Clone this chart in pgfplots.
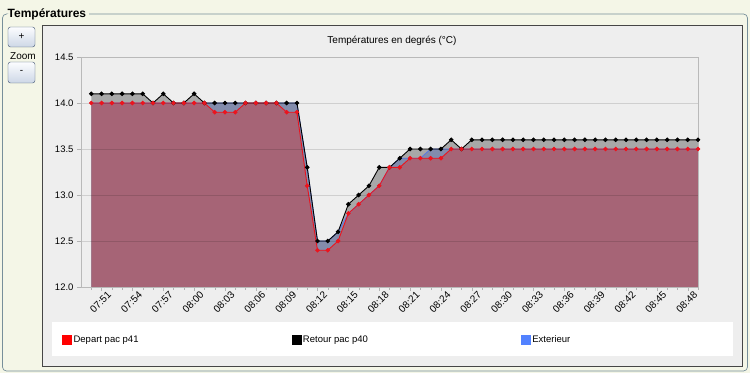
\documentclass[border=0pt]{standalone}
\usepackage{fontspec}
\setmainfont{Liberation Sans}
\usepackage{pgfplots}
\usepackage{pgfplotstable}
\pgfplotsset{compat=1.18}

\definecolor{bgcol}{RGB}{244,246,231}
\definecolor{panelbg}{RGB}{238,238,238}
\definecolor{panelborder}{RGB}{70,70,70}
\definecolor{fieldcol}{RGB}{60,95,110}
\definecolor{maroonfill}{RGB}{166,100,118}
\definecolor{grayfill}{RGB}{168,168,168}
\definecolor{bluefill}{RGB}{131,140,172}
\definecolor{blueline}{RGB}{90,120,230}
\definecolor{legblue}{RGB}{82,130,255}
\definecolor{redline}{RGB}{235,20,30}
\definecolor{btntop}{RGB}{252,253,255}
\definecolor{btnbot}{RGB}{205,215,230}
\definecolor{btnborder}{RGB}{60,80,110}

\pgfplotstableread{
i dep ret ext
0 14.0 14.1 14.0
1 14.0 14.1 14.0
2 14.0 14.1 14.0
3 14.0 14.1 14.0
4 14.0 14.1 14.0
5 14.0 14.1 14.0
6 14.0 14.0 14.0
7 14.0 14.1 14.0
8 14.0 14.0 14.0
9 14.0 14.0 14.0
10 14.0 14.1 14.0
11 14.0 14.0 14.0
12 13.9 14.0 14.0
13 13.9 14.0 14.0
14 13.9 14.0 14.0
15 14.0 14.0 14.0
16 14.0 14.0 14.0
17 14.0 14.0 14.0
18 14.0 14.0 14.0
19 13.9 14.0 14.0
20 13.9 14.0 14.0
21 13.1 13.3 13.3
22 12.4 12.5 12.5
23 12.4 12.5 12.5
24 12.5 12.6 12.6
25 12.8 12.9 12.8
26 12.9 13.0 12.9
27 13.0 13.1 13.0
28 13.1 13.3 13.1
29 13.3 13.3 13.3
30 13.3 13.4 13.4
31 13.4 13.5 13.4
32 13.4 13.5 13.4
33 13.4 13.5 13.5
34 13.4 13.5 13.5
35 13.5 13.6 13.5
36 13.5 13.5 13.5
37 13.5 13.6 13.5
38 13.5 13.6 13.5
39 13.5 13.6 13.5
40 13.5 13.6 13.5
41 13.5 13.6 13.5
42 13.5 13.6 13.5
43 13.5 13.6 13.5
44 13.5 13.6 13.5
45 13.5 13.6 13.5
46 13.5 13.6 13.5
47 13.5 13.6 13.5
48 13.5 13.6 13.5
49 13.5 13.6 13.5
50 13.5 13.6 13.5
51 13.5 13.6 13.5
52 13.5 13.6 13.5
53 13.5 13.6 13.5
54 13.5 13.6 13.5
55 13.5 13.6 13.5
56 13.5 13.6 13.5
57 13.5 13.6 13.5
58 13.5 13.6 13.5
59 13.5 13.6 13.5
}\data

\begin{document}
\begin{tikzpicture}[x=1pt,y=1pt]
\useasboundingbox (0,0) rectangle (750,373);
\fill[bgcol] (0,0) rectangle (750,373);
% fieldset frame
\draw[fieldcol!70, line width=0.7pt, rounded corners=4pt] (89,359) -- (747.5,359) -- (747.5,2) -- (2.5,2) -- (2.5,359) -- (6,359);
\node[anchor=west, font=\bfseries\fontsize{12}{14}\selectfont, inner sep=1pt] at (6.5,359) {Températures};
% chart panel
\draw[panelborder, fill=panelbg, line width=0.8pt] (42,348) rectangle (742,7);
% zoom buttons
\draw[btnborder, rounded corners=2.5pt, top color=btntop, bottom color=btnbot] (8,346) rectangle (35,326);
\node[font=\fontsize{10}{12}\selectfont] at (21.5,336.5) {+};
\node[font=\fontsize{10}{12}\selectfont] at (23,317) {Zoom};
\draw[btnborder, rounded corners=2.5pt, top color=btntop, bottom color=btnbot] (8,311) rectangle (35,290);
\node[font=\fontsize{10}{12}\selectfont] at (21.5,301) {-};
% legend box
\fill[white] (52,17) rectangle (733,51);
% title
\node[font=\fontsize{10}{12}\selectfont] at (392,332) {Températures en degrés (°C)};
\begin{axis}[
  at={(81pt,86pt)}, anchor=south west,
  scale only axis, width=617pt, height=230pt,
  xmin=-1, xmax=59, ymin=12, ymax=14.5,
  axis on top,
  axis line style={draw=gray!55},
  xtick pos=bottom, ytick pos=left,
  ytick={12,12.5,13,13.5,14,14.5},
  xtick={1,4,7,10,13,16,19,22,25,28,31,34,37,40,43,46,49,52,55,58},
  xticklabels={07:51,07:54,07:57,08:00,08:03,08:06,08:09,08:12,08:15,08:18,08:21,08:24,08:27,08:30,08:33,08:36,08:39,08:42,08:45,08:48},
  minor xtick={0,...,59},
  tick align=outside, major tick length=4pt, minor tick length=2.5pt,
  tick style={gray!60},
  ymajorgrids, grid style={black, opacity=0.13},
  /pgf/number format/assume math mode=true,
  yticklabel style={/pgf/number format/.cd, fixed, fixed zerofill, precision=1},
  ticklabel style={font=\fontsize{9.5}{11}\selectfont},
  xticklabel style={anchor=center, yshift=-11pt, xshift=-1pt, rotate=45, inner sep=0pt, font=\fontsize{10}{12}\selectfont},
  legend style={draw=none, fill=none, at={(-0.0308,-0.2304)}, anchor=west,
    legend columns=3, font=\fontsize{9.5}{11}\selectfont, inner sep=0pt,
    /tikz/every even column/.append style={column sep=0pt}},
  legend cell align=left,
]
\addplot[draw=none, fill=grayfill, forget plot] table[x=i,y=ret]{\data} \closedcycle;
\addplot[draw=none, fill=bluefill, forget plot] table[x=i,y=ext]{\data} \closedcycle;
\addplot[draw=none, fill=maroonfill, forget plot] table[x=i,y=dep]{\data} \closedcycle;
\addplot[blueline, line width=0.8pt, forget plot] table[x=i,y=ext]{\data};
\addplot[black, line width=0.9pt, mark=*, mark size=1.8pt, forget plot] table[x=i,y=ret]{\data};
\addplot[redline, line width=0.9pt, mark=*, mark size=1.8pt, mark options={fill=redline,draw=redline}, forget plot] table[x=i,y=dep]{\data};
\addlegendimage{legend image code/.code={\fill[red] (0pt,-4.5pt) rectangle (9pt,4.5pt);}}
\addlegendentry{\makebox[216pt][l]{Depart pac p41}}
\addlegendimage{legend image code/.code={\fill[black] (0pt,-4.5pt) rectangle (9pt,4.5pt);}}
\addlegendentry{\makebox[216pt][l]{Retour pac p40}}
\addlegendimage{legend image code/.code={\fill[legblue] (0pt,-4.5pt) rectangle (9pt,4.5pt);}}
\addlegendentry{\makebox[150pt][l]{Exterieur}}
\end{axis}
\end{tikzpicture}
\end{document}
